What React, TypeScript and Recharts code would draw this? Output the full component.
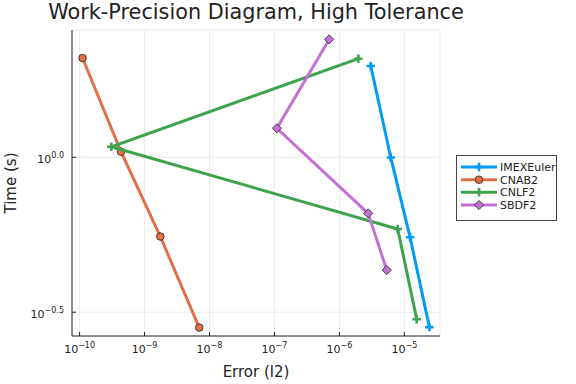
import { ScatterChart, Scatter, XAxis, YAxis, CartesianGrid } from "recharts";

const seriesNames = ["IMEXEuler", "CNAB2", "CNLF2", "SBDF2"];
const seriesColors = ["#009af9", "#e26f46", "#3da44d", "#c271d2"];
const seriesMarkers = ["cross", "circle", "cross", "diamond"];

// error (l2) and time (s) for each method, in run order
const imexEulerError = [3.04e-6, 6.18e-6, 1.225e-5, 2.43e-5];
const imexEulerTime = [1.97, 0.998, 0.552, 0.283];
const cnab2Error = [1.11e-10, 4.34e-10, 1.75e-9, 6.95e-9];
const cnab2Time = [2.09, 1.042, 0.555, 0.282];
const cnlf2Error = [1.96e-6, 3.08e-10, 7.91e-6, 1.55e-5];
const cnlf2Time = [2.08, 1.081, 0.587, 0.3];
const sbdf2Error = [6.95e-7, 1.09e-7, 2.77e-6, 5.36e-6];
const sbdf2Time = [2.4, 1.24, 0.659, 0.4325];

const xTicks = [1e-10, 1e-9, 1e-8, 1e-7, 1e-6, 1e-5];
const xTickExponents = ["−10", "−9", "−8", "−7", "−6", "−5"];
const yTicks = [1, 0.31623];
const yTickExponents = ["0.0", "−0.5"];

const FONT = "DejaVu Sans, sans-serif";
const AXIS = "#222";

const toPoints = (xs: number[], ys: number[]) => xs.map((x, i) => ({ x, y: ys[i] }));

const seriesData = [
  toPoints(imexEulerError, imexEulerTime),
  toPoints(cnab2Error, cnab2Time),
  toPoints(cnlf2Error, cnlf2Time),
  toPoints(sbdf2Error, sbdf2Time),
];

function Marker({ kind, cx, cy, color }: { kind: string; cx: number; cy: number; color: string }) {
  if (kind === "circle") {
    return <circle cx={cx} cy={cy} r={3.8} fill={color} stroke="#222" strokeWidth={0.8} />;
  }
  if (kind === "diamond") {
    const d = 4.6;
    return (
      <path
        d={`M${cx},${cy - d}L${cx + d},${cy}L${cx},${cy + d}L${cx - d},${cy}Z`}
        fill={color}
        stroke="#222"
        strokeWidth={0.8}
      />
    );
  }
  const a = 4.2;
  return (
    <path d={`M${cx - a},${cy}H${cx + a}M${cx},${cy - a}V${cy + a}`} stroke={color} strokeWidth={2.6} fill="none" />
  );
}

function XTick(props: any) {
  const { x, y, index } = props;
  return (
    <g>
      <line x1={x} x2={x} y1={y} y2={y - 4} stroke={AXIS} strokeWidth={1} />
      <text x={x} y={y + 17} textAnchor="middle" fontFamily={FONT} fontSize={11} fill="#222">
        <tspan>10</tspan>
        <tspan dy={-5} fontSize={8}>{xTickExponents[index]}</tspan>
      </text>
    </g>
  );
}

function YTick(props: any) {
  const { x, y, index } = props;
  return (
    <g>
      <line x1={x} x2={x + 4} y1={y} y2={y} stroke={AXIS} strokeWidth={1} />
      <text x={x - 8} y={y + 6} textAnchor="end" fontFamily={FONT} fontSize={11} fill="#222">
        <tspan>10</tspan>
        <tspan dy={-5} fontSize={8}>{yTickExponents[index]}</tspan>
      </text>
    </g>
  );
}

function LegendBox() {
  const rowY = [12, 24.7, 37.3, 50];
  return (
    <svg
      width={101}
      height={66}
      style={{ position: "absolute", left: 456, top: 155 }}
    >
      <rect x={0.5} y={0.5} width={100} height={65} fill="#fff" stroke="#444" strokeWidth={1} />
      {seriesNames.map((name, i) => (
        <g key={name}>
          <line x1={5} x2={41} y1={rowY[i]} y2={rowY[i]} stroke={seriesColors[i]} strokeWidth={3} />
          <Marker kind={seriesMarkers[i]} cx={23} cy={rowY[i]} color={seriesColors[i]} />
          <text x={44} y={rowY[i] + 4} fontFamily={FONT} fontSize={11} fill="#222">
            {name}
          </text>
        </g>
      ))}
    </svg>
  );
}

export default function App() {
  return (
    <div style={{ position: "absolute", left: 0, top: 0, width: 576, height: 384, background: "#fff" }}>
      <svg width={576} height={384} style={{ position: "absolute", left: 0, top: 0 }}>
        <text x={256} y={19} textAnchor="middle" fontFamily={FONT} fontSize={20.8} fill="#222">
          Work-Precision Diagram, High Tolerance
        </text>
        <text x={256} y={377} textAnchor="middle" fontFamily={FONT} fontSize={15} fill="#222">
          Error (l2)
        </text>
        <text
          x={16}
          y={183}
          textAnchor="middle"
          fontFamily={FONT}
          fontSize={15}
          fill="#222"
          transform="rotate(-90 16 183)"
        >
          Time (s)
        </text>
      </svg>
      <div style={{ position: "absolute", left: 0, top: 0 }}>
        <ScatterChart width={576} height={384} margin={{ top: 30, right: 136, bottom: 0, left: 0 }}>
          <CartesianGrid stroke="#ebebeb" strokeWidth={1} />
          <XAxis
            type="number"
            dataKey="x"
            scale="log"
            domain={[7.64e-11, 3.54e-5]}
            allowDataOverflow
            ticks={xTicks}
            height={48}
            tickSize={0}
            tickMargin={0}
            tickLine={false}
            axisLine={{ stroke: AXIS }}
            tick={<XTick />}
          />
          <YAxis
            type="number"
            dataKey="y"
            scale="log"
            domain={[0.265, 2.574]}
            allowDataOverflow
            ticks={yTicks}
            width={72}
            tickSize={0}
            tickMargin={0}
            tickLine={false}
            axisLine={{ stroke: AXIS }}
            tick={<YTick />}
          />
          {seriesData.map((data, i) => (
            <Scatter
              key={seriesNames[i]}
              name={seriesNames[i]}
              data={data}
              fill={seriesColors[i]}
              line={{ stroke: seriesColors[i], strokeWidth: 3 }}
              lineType="joint"
              isAnimationActive={false}
              shape={(p: any) => <Marker kind={seriesMarkers[i]} cx={p.cx} cy={p.cy} color={seriesColors[i]} />}
            />
          ))}
        </ScatterChart>
      </div>
      <LegendBox />
    </div>
  );
}
